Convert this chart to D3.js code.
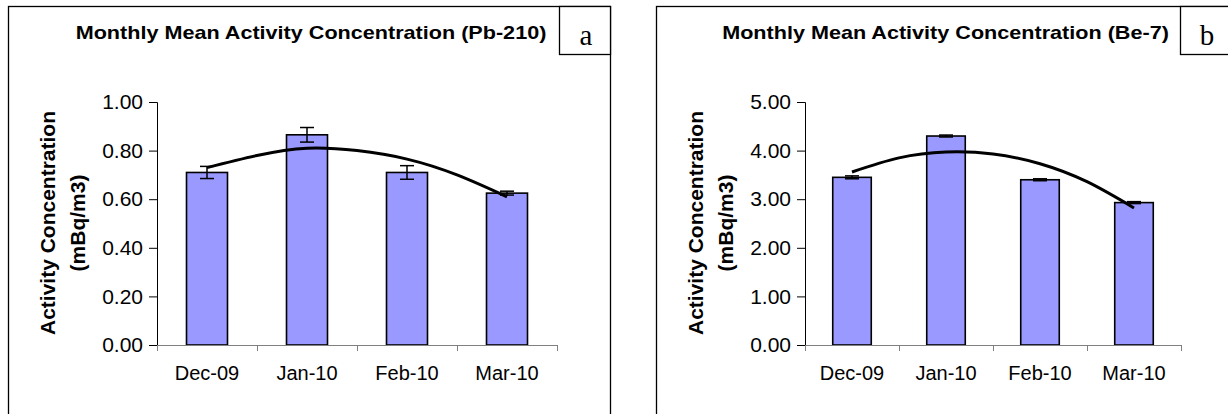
<!DOCTYPE html>
<html>
<head>
<meta charset="utf-8">
<script src="https://cdn.jsdelivr.net/npm/d3@7"></script>
<style>
	html, body { margin: 0; padding: 0; background: #fff; }
	svg { display: block; }
</style>
</head>
<body>
<div id="chart-box"></div>
<script>
// DATA
const months = ["Dec-09", "Jan-10", "Feb-10", "Mar-10"];

const pbValues = [0.71, 0.865, 0.71, 0.625];
const pbErrors = [0.025, 0.03, 0.028, 0.008];
const pbTicks = [0, 0.2, 0.4, 0.6, 0.8, 1.0];

const beValues = [3.45, 4.30, 3.40, 2.93];
const beErrors = [0.03, 0.02, 0.02, 0.02];
const beTicks = [0, 1, 2, 3, 4, 5];

// trendline read at category centres and half-way points
const trendSteps = [0, 0.5, 1, 1.5, 2, 2.5, 3];
const pbTrend = [0.73, 0.78, 0.81, 0.80, 0.765, 0.70, 0.61];
const beTrend = [3.56, 3.85, 3.97, 3.93, 3.73, 3.36, 2.82];


// SVG
const width = 1228;
const height = 414;
const svg = d3.select("#chart-box")
	.append("svg")
	.attr("width", width)
	.attr("height", height);


/** DRAW ONE PANEL
 	* frame, title, letter box, axes, bars, error bars, trendline
 	*/
function drawPanel(p) {
	const g = svg.append("g");

	// frame
	g.append("rect")
		.attr("x", p.left + 0.5)
		.attr("y", 6.5)
		.attr("width", p.frameW)
		.attr("height", height + 20)
		.attr("fill", "none")
		.attr("stroke", "#000")
		.attr("stroke-width", 1.3);

	// letter box
	g.append("rect")
		.attr("x", p.left + p.frameW - 51 + 0.5)
		.attr("y", 6.5)
		.attr("width", 51)
		.attr("height", 48)
		.attr("fill", "#fff")
		.attr("stroke", "#000")
		.attr("stroke-width", 1.3);
	g.append("text")
		.attr("x", p.left + p.frameW - 24)
		.attr("y", 45)
		.attr("text-anchor", "middle")
		.attr("font-family", "'Liberation Serif', 'Times New Roman', serif")
		.attr("font-size", 29)
		.text(p.letter);

	// title (Excel stretched it a little sideways)
	g.append("text")
		.attr("transform", `translate(${p.left + p.frameW / 2 + 2},39) scale(1.2,1)`)
		.attr("text-anchor", "middle")
		.attr("font-family", "'Liberation Sans', Arial, sans-serif")
		.attr("font-weight", "bold")
		.attr("font-size", 18)
		.text(p.title);

	// scales
	const x0 = p.left + 149;
	const x1 = x0 + p.plotW;
	const y = d3.scaleLinear().domain([0, p.max]).range([345, 102]);
	const x = d3.scaleBand()
		.domain(months)
		.range([x0, x1])
		.paddingInner(0.59)
		.paddingOuter(0.295);
	const xi = d3.scaleLinear().domain([0, months.length]).range([x0, x1]);

	// y axis
	const yAxis = g.append("g")
		.attr("transform", `translate(${x0},0)`)
		.call(d3.axisLeft(y).tickValues(p.ticks).tickSize(8).tickPadding(6).tickFormat(d3.format(".2f")));
	yAxis.select(".domain").attr("stroke", "#000");
	yAxis.selectAll(".tick line").attr("stroke", "#000");
	yAxis.selectAll("text")
		.attr("font-family", "'Liberation Sans', Arial, sans-serif")
		.attr("font-size", 21)
		.attr("fill", "#000");

	// y title
	const yt = g.append("text")
		.attr("transform", `translate(${p.left + 47},223) rotate(-90)`)
		.attr("text-anchor", "middle")
		.attr("font-family", "'Liberation Sans', Arial, sans-serif")
		.attr("font-weight", "bold")
		.attr("font-size", 21);
	yt.append("tspan").attr("x", 0).attr("y", 0).text("Activity Concentration");
	yt.append("tspan").attr("x", 0).attr("y", 30).text("(mBq/m3)");

	// bars
	g.append("g")
		.selectAll("rect")
		.data(p.values)
		.enter()
		.append("rect")
			.attr("x", (d, i) => x(months[i]))
			.attr("y", d => y(d))
			.attr("width", x.bandwidth())
			.attr("height", d => y(0) - y(d))
			.attr("fill", "#9999FF")
			.attr("stroke", "#000")
			.attr("stroke-width", 1.6);

	// error bars
	const eb = g.append("g")
		.selectAll("g")
		.data(p.values)
		.enter()
		.append("g")
			.attr("stroke", "#000")
			.attr("stroke-width", 1.5);
	const cx = i => x(months[i]) + x.bandwidth() / 2;
	eb.append("line")
		.attr("x1", (d, i) => cx(i)).attr("x2", (d, i) => cx(i))
		.attr("y1", (d, i) => y(d + p.errors[i]))
		.attr("y2", (d, i) => y(d - p.errors[i]));
	eb.append("line")
		.attr("x1", (d, i) => cx(i) - 7).attr("x2", (d, i) => cx(i) + 7)
		.attr("y1", (d, i) => y(d + p.errors[i]))
		.attr("y2", (d, i) => y(d + p.errors[i]));
	eb.append("line")
		.attr("x1", (d, i) => cx(i) - 7).attr("x2", (d, i) => cx(i) + 7)
		.attr("y1", (d, i) => y(d - p.errors[i]))
		.attr("y2", (d, i) => y(d - p.errors[i]));

	// x axis (ticks on category boundaries)
	const xAxis = g.append("g")
		.attr("transform", "translate(0,345)")
		.call(d3.axisBottom(xi).tickValues(d3.range(months.length + 1)).tickSize(6).tickSizeOuter(6).tickFormat(""));
	xAxis.select(".domain").attr("stroke", "#808080");
	xAxis.selectAll(".tick line").attr("stroke", "#808080");

	g.append("g")
		.selectAll("text")
		.data(months)
		.enter()
		.append("text")
			.attr("x", d => x(d) + x.bandwidth() / 2)
			.attr("y", 380)
			.attr("text-anchor", "middle")
			.attr("font-family", "'Liberation Sans', Arial, sans-serif")
			.attr("font-size", 20)
			.text(d => d);

	// trendline
	const line = d3.line()
		.x((d, i) => xi(trendSteps[i] + 0.5))
		.y(d => y(d))
		.curve(d3.curveNatural);
	g.append("path")
		.datum(p.trend)
		.attr("d", line)
		.attr("fill", "none")
		.attr("stroke", "#000")
		.attr("stroke-width", 3);
}


drawPanel({
	left: 8, frameW: 602, plotW: 400, max: 1.0, ticks: pbTicks,
	values: pbValues, errors: pbErrors, trend: pbTrend,
	title: "Monthly Mean Activity Concentration (Pb-210)", letter: "a"
});

drawPanel({
	left: 656, frameW: 575, plotW: 376, max: 5, ticks: beTicks,
	values: beValues, errors: beErrors, trend: beTrend,
	title: "Monthly Mean Activity Concentration (Be-7)", letter: "b"
});
</script>
</body>
</html>
